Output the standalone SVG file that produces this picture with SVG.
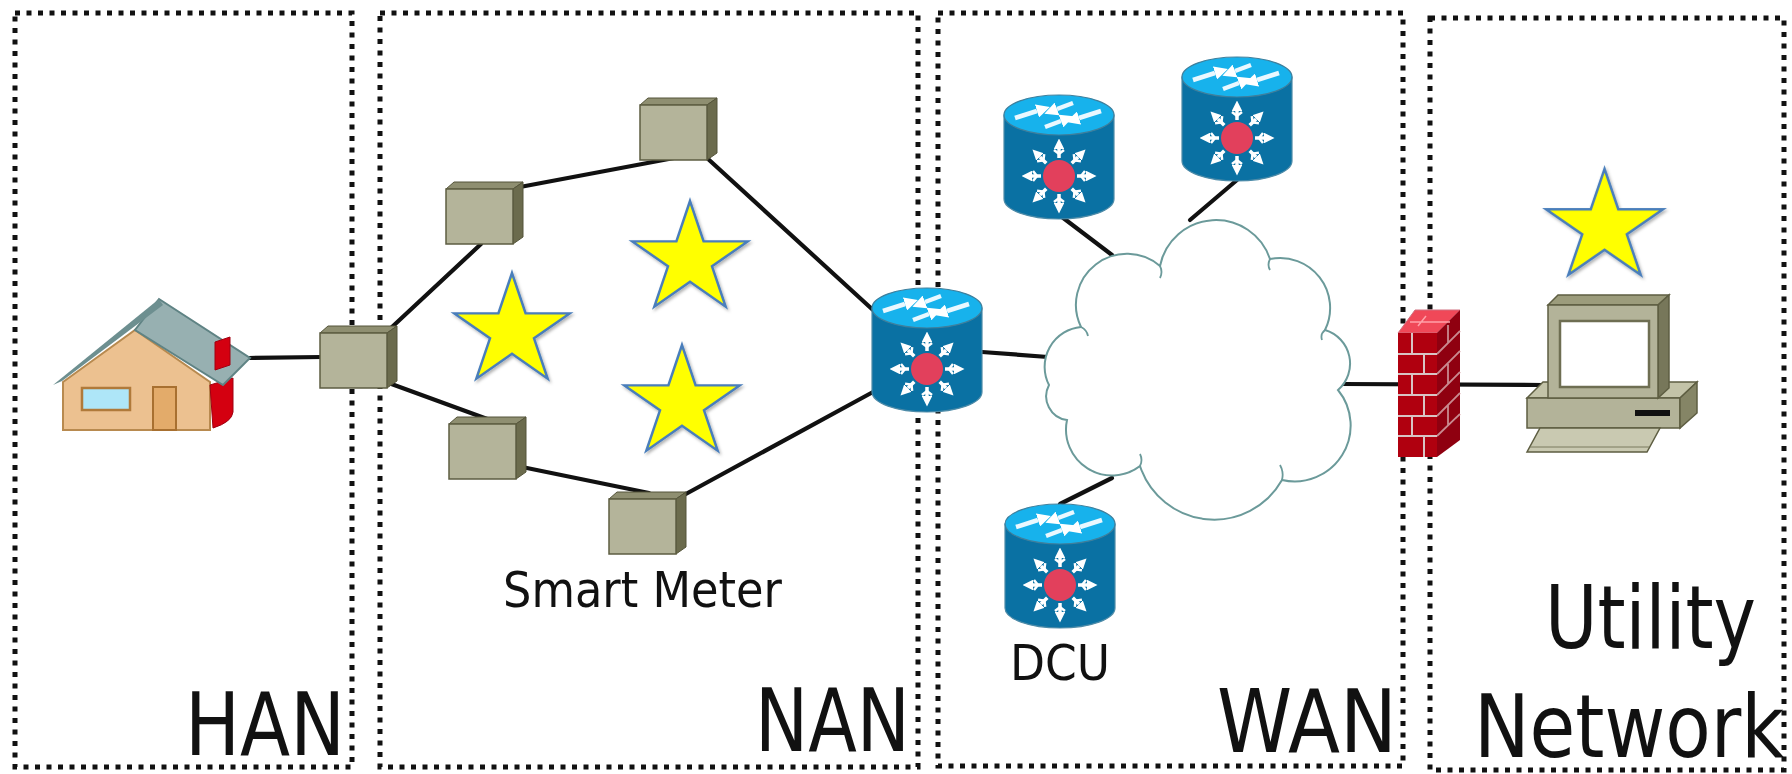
<svg xmlns="http://www.w3.org/2000/svg" xmlns:xlink="http://www.w3.org/1999/xlink" width="1792" height="774" viewBox="0 0 1792 774">
  <style>
    .zone { fill: none; stroke: #111; stroke-width: 5; stroke-dasharray: 5 6.5; }
    .link { stroke: #111; stroke-width: 4.2; fill: none; stroke-linecap: round; }
    .big { font-family: "DejaVu Sans", "Liberation Sans", sans-serif; font-size: 88px; fill: #111; }
    .small { font-family: "DejaVu Sans", "Liberation Sans", sans-serif; font-size: 49px; fill: #111; }
    .star { fill: #ffff00; stroke: #4a7ebb; stroke-width: 2.5; stroke-linejoin: miter; }
    .wl { stroke: #fff; stroke-width: 3.5; fill: none; }
    .wt { stroke: #eaf8ff; stroke-width: 4.5; fill: none; }
  </style>
  <defs>
    <filter id="shadow" x="-20%" y="-20%" width="140%" height="140%">
      <feDropShadow dx="1.5" dy="2" stdDeviation="1.5" flood-color="#000" flood-opacity="0.3"/>
    </filter>
    <marker id="wh" viewBox="0 0 10 10" refX="0" refY="5" markerWidth="3" markerHeight="3" orient="auto">
      <path d="M0,0 L10,5 L0,10 Z" fill="#fff"/>
    </marker>
    <polygon id="star" class="star" points="0,-60 13.46,-18.53 57.06,-18.54 21.78,7.08 35.27,48.54 0,22.9 -35.27,48.54 -21.78,7.08 -57.06,-18.54 -13.46,-18.53"/>
    <!-- 3D meter box, top-left of bounding box at origin -->
    <g id="meter">
      <polygon points="0,7 8,0 77,0 67,7" fill="#8f8f71" stroke="#55553a" stroke-width="1"/>
      <polygon points="67,7 77,0 77,55 67,62" fill="#6b6b4d" stroke="#55553a" stroke-width="1"/>
      <rect x="0" y="7" width="67" height="55" fill="#b4b49a" stroke="#5d5d42" stroke-width="1.5"/>
    </g>
    <!-- radiating arrow for the switch face -->
    <g id="ray">
      <line class="wl" x1="0" y1="63" x2="0" y2="54" marker-end="url(#wh)"/>
      <path d="M-5 55 L0 59 L5 55" stroke="#fff" stroke-width="2.5" fill="none"/>
    </g>
    <!-- layer-3 switch cylinder, centre x = 0, top = 0 -->
    <g id="router">
      <path d="M-55 20 V104 A55 20 0 0 0 55 104 V20 Z" fill="#0a71a3" stroke="#4d8ba8" stroke-width="1.2"/>
      <ellipse cx="0" cy="20" rx="55" ry="20" fill="#17b2ec" stroke="#3f7f9c" stroke-width="1.2"/>
      <line class="wt" x1="-44" y1="23" x2="-22" y2="16" marker-end="url(#wh)"/>
      <line class="wt" x1="42" y1="16" x2="20" y2="23" marker-end="url(#wh)"/>
      <line class="wt" x1="-14" y1="32" x2="2" y2="26" marker-end="url(#wh)"/>
      <line class="wt" x1="14" y1="8" x2="-2" y2="14" marker-end="url(#wh)"/>
      <use href="#ray"/>
      <use href="#ray" transform="rotate(45 0 81)"/>
      <use href="#ray" transform="rotate(90 0 81)"/>
      <use href="#ray" transform="rotate(135 0 81)"/>
      <use href="#ray" transform="rotate(180 0 81)"/>
      <use href="#ray" transform="rotate(225 0 81)"/>
      <use href="#ray" transform="rotate(270 0 81)"/>
      <use href="#ray" transform="rotate(315 0 81)"/>
      <circle cx="0" cy="81" r="16" fill="#e2405c"/>
    </g>
  </defs>

  <rect width="1792" height="774" fill="#fff"/>

  <!-- connectors -->
  <g id="connectors">
    <line class="link" x1="249" y1="358" x2="322" y2="357"/>
    <line class="link" x1="392" y1="327" x2="481" y2="244"/>
    <line class="link" x1="520" y1="187" x2="674" y2="158"/>
    <line class="link" x1="707" y1="158" x2="873" y2="310"/>
    <line class="link" x1="386" y1="382" x2="490" y2="420"/>
    <line class="link" x1="522" y1="467" x2="649" y2="493"/>
    <line class="link" x1="684" y1="495" x2="873" y2="392"/>
    <line class="link" x1="982" y1="352" x2="1048" y2="357"/>
    <line class="link" x1="1058" y1="214" x2="1112" y2="255"/>
    <line class="link" x1="1237" y1="180" x2="1190" y2="220"/>
    <line class="link" x1="1060" y1="504" x2="1112" y2="478"/>
    <line class="link" x1="1342" y1="384" x2="1543" y2="385"/>
  </g>

  <!-- zone frames -->
  <g id="zones">
    <rect class="zone" x="15" y="13" width="337" height="754"/>
    <rect class="zone" x="380" y="13" width="538" height="754"/>
    <rect class="zone" x="938" y="13" width="465" height="753"/>
    <rect class="zone" x="1430" y="18" width="354" height="752"/>
  </g>

  <!-- home -->
  <g id="home">
    <polygon points="63,382 135,330 210,382 210,430 63,430" fill="#ecc190" stroke="#b88a4f" stroke-width="2"/>
    <rect x="82" y="388" width="48" height="22" fill="#aee6f8" stroke="#b07a3a" stroke-width="2.5"/>
    <rect x="153" y="387" width="23" height="43" fill="#e3ab6a" stroke="#a87030" stroke-width="2"/>
    <path d="M210 385 L233 378 L233 412 Q232 422 213 428 Z" fill="#d40010" stroke="#a00010" stroke-width="1"/>
    <polygon points="159,299 250,358 223,385 135,330" fill="#97b0b1" stroke="#5f8384" stroke-width="2"/>
    <polygon points="53,385 159,299 163,305 62,381" fill="#6d8f90"/>
    <polygon points="215,342 230,337 230,365 215,370" fill="#d40010" stroke="#a00010" stroke-width="1"/>
  </g>

  <!-- smart meters -->
  <g id="meter-edge"><use href="#meter" x="320" y="326"/></g>
  <g id="meter-upper-left"><use href="#meter" x="446" y="182"/></g>
  <g id="meter-top"><use href="#meter" x="640" y="98"/></g>
  <g id="meter-lower-left"><use href="#meter" x="449" y="417"/></g>
  <g id="meter-bottom"><use href="#meter" x="609" y="492"/></g>

  <!-- stars -->
  <g id="stars" filter="url(#shadow)">
    <use href="#star" transform="translate(512 331.4) scale(1.01 0.973)"/>
    <use href="#star" transform="translate(690 259.4) scale(1.01 0.973)"/>
    <use href="#star" transform="translate(682 403.4) scale(1.01 0.973)"/>
    <use href="#star" transform="translate(1604.5 227.4) scale(1.025 0.975)"/>
  </g>

  <!-- switches -->
  <g id="switch-nan"><use href="#router" transform="translate(927 288)"/></g>
  <g id="switch-wan-left"><use href="#router" transform="translate(1059 95)"/></g>
  <g id="switch-wan-right"><use href="#router" transform="translate(1237 57)"/></g>
  <g id="switch-dcu"><use href="#router" transform="translate(1060 504)"/></g>

  <!-- WAN cloud -->
  <g id="cloud">
    <path d="M1049 385 A40 40 0 0 1 1081 327 A51 51 0 0 1 1160 266 A57 57 0 0 1 1270 259 A50 50 0 0 1 1325 330 A35 35 0 0 1 1338 390 A56 56 0 0 1 1282 480 A78 78 0 0 1 1140 466 A46 46 0 0 1 1067 420 A24 24 0 0 1 1049 385 Z" fill="#fff" stroke="#6b9a9a" stroke-width="2"/>
    <path d="M1160 266 Q1163 272 1160 278 M1270 259 Q1267 265 1270 270 M1325 330 Q1320 334 1322 340 M1282 480 Q1284 472 1280 465 M1140 466 Q1143 460 1140 454 M1081 327 Q1087 330 1088 336" fill="none" stroke="#6b9a9a" stroke-width="1.8"/>
  </g>

  <!-- firewall -->
  <g id="firewall">
    <polygon points="1398,333 1415,310 1460,310 1437,333" fill="#f04858" stroke="#d07080" stroke-width="1"/>
    <polygon points="1437,333 1460,310 1460,440 1437,457" fill="#8f0010"/>
    <path d="M1437 354 L1460 331 M1437 374 L1460 351 M1437 395 L1460 372 M1437 416 L1460 393 M1437 436 L1460 414 M1448 325 V343 M1448 364 V384 M1448 405 V425" stroke="#c98a90" stroke-width="1.8" fill="none"/>
    <rect x="1398" y="333" width="39" height="124" fill="#b0000f"/>
    <path d="M1398 354 H1437 M1398 374 H1437 M1398 395 H1437 M1398 416 H1437 M1398 436 H1437 M1412 333 V354 M1424 354 V374 M1412 374 V395 M1424 395 V416 M1412 416 V436 M1424 436 V457" stroke="#d8c4c4" stroke-width="2" fill="none"/>
    <path d="M1410 322 H1450 M1426 316 L1418 326" stroke="#ffa0a8" stroke-width="1.5" fill="none"/>
  </g>

  <!-- workstation -->
  <g id="workstation">
    <polygon points="1527,398 1543,382 1697,382 1680,398" fill="#c3c3a8" stroke="#5e5e42" stroke-width="1.5"/>
    <rect x="1527" y="398" width="153" height="30" fill="#b3b399" stroke="#5e5e42" stroke-width="1.5"/>
    <polygon points="1680,398 1697,382 1697,413 1680,428" fill="#858566" stroke="#5e5e42" stroke-width="1.5"/>
    <rect x="1635" y="410" width="35" height="6" fill="#111"/>
    <polygon points="1548,305 1558,295 1669,295 1658,305" fill="#9c9c7c" stroke="#5e5e42" stroke-width="1.5"/>
    <polygon points="1658,305 1669,295 1669,388 1658,398" fill="#77775a" stroke="#5e5e42" stroke-width="1.5"/>
    <rect x="1548" y="305" width="110" height="93" fill="#b3b399" stroke="#5e5e42" stroke-width="1.5"/>
    <rect x="1560" y="321" width="89" height="66" fill="#fff" stroke="#6e6e52" stroke-width="2.5"/>
    <polygon points="1540,428 1660,428 1647,452 1527,452" fill="#c9c9b1" stroke="#5e5e42" stroke-width="1.5"/>
    <line x1="1530" y1="447" x2="1649" y2="447" stroke="#7a7a5e" stroke-width="1"/>
  </g>

  <!-- labels -->
  <g id="labels">
    <text class="small" x="503" y="607" textLength="279" lengthAdjust="spacingAndGlyphs">Smart Meter</text>
    <text class="small" x="1010" y="680" font-size="50" textLength="100" lengthAdjust="spacingAndGlyphs">DCU</text>
    <text class="big" x="185" y="755" textLength="160" lengthAdjust="spacingAndGlyphs">HAN</text>
    <text class="big" x="755" y="751" textLength="155" lengthAdjust="spacingAndGlyphs">NAN</text>
    <text class="big" x="1217" y="752" textLength="180" lengthAdjust="spacingAndGlyphs">WAN</text>
    <text class="big" transform="translate(1545 648) scale(0.815 1)">Utility</text>
    <text class="big" font-size="86" transform="translate(1474 757) scale(0.845 1)">Network</text>
  </g>
</svg>
